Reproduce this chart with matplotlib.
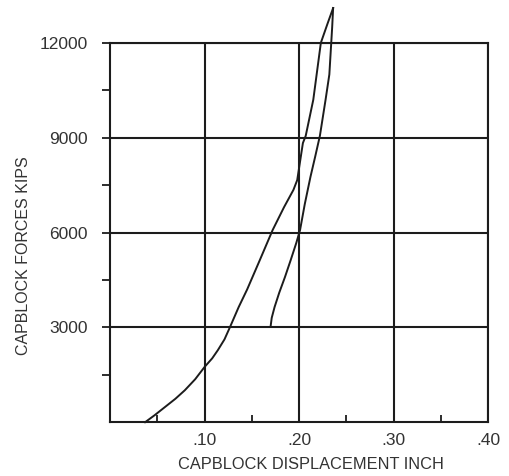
import matplotlib
matplotlib.use("Agg")
import matplotlib.pyplot as plt
import numpy as np

# loading branch
load_x = [0.037, 0.047, 0.058, 0.069, 0.079, 0.090, 0.100, 0.108, 0.114, 0.121, 0.127,
          0.136, 0.145, 0.158, 0.172, 0.184, 0.194, 0.198, 0.204, 0.207, 0.215, 0.223,
          0.230, 0.236]
load_y = [0, 220, 480, 740, 1010, 1360, 1750, 2020, 2280, 2620, 3020,
          3640, 4200, 5100, 6080, 6800, 7350, 7660, 8830, 9060, 10200, 12000,
          12600, 13100]

# unloading branch
unload_x = [0.236, 0.235, 0.234, 0.232, 0.228, 0.222, 0.217, 0.212, 0.206, 0.201,
            0.197, 0.191, 0.185, 0.179, 0.174, 0.171, 0.170]
unload_y = [13100, 12500, 12000, 11000, 10200, 9060, 8400, 7760, 6900, 6080,
            5670, 5120, 4590, 4100, 3640, 3300, 3070]

xticks = [0.1, 0.2, 0.3, 0.4]
xlabels = ['.10', '.20', '.30', '.40']
yticks = [3000, 6000, 9000, 12000]

plt.rcParams['font.family'] = ['Liberation Sans', 'DejaVu Sans']
ink = '#1c1c1c'
txt = '#333333'

fig = plt.figure(figsize=(5.1, 4.76), dpi=100)
ax = fig.add_axes([0.216, 0.113, 0.741, 0.797])

ax.plot(load_x, load_y, color=ink, lw=1.4, clip_on=False)
ax.plot(unload_x, unload_y, color=ink, lw=1.4, clip_on=False)

ax.set_xlim(0, 0.4)
ax.set_ylim(0, 12000)
ax.set_xticks(xticks)
ax.set_xticklabels(xlabels)
ax.set_yticks(yticks)
ax.set_xticks([0.05, 0.15, 0.25, 0.35], minor=True)
ax.set_yticks([1500, 4500, 7500, 10500], minor=True)

ax.grid(True, which='major', color=ink, lw=1.5)
for s in ax.spines.values():
    s.set_color(ink)
    s.set_linewidth(1.5)

ax.tick_params(axis='y', which='both', direction='out', length=6, width=1.3,
               color=ink, labelsize=12.5, pad=10, labelcolor=txt)
ax.tick_params(axis='x', which='minor', direction='in', length=5, width=1.3, color=ink)
ax.tick_params(axis='x', which='major', direction='in', length=0,
               labelsize=12.5, pad=8, labelcolor=txt)

ax.set_xlabel('CAPBLOCK DISPLACEMENT INCH', fontsize=11.8, color=txt, labelpad=6)
ax.set_ylabel('CAPBLOCK FORCES KIPS', fontsize=11.5, color=txt, labelpad=6)
ax.xaxis.label.set_x(0.53)
ax.yaxis.label.set_y(0.44)

fig.savefig('out.png', dpi=100)
